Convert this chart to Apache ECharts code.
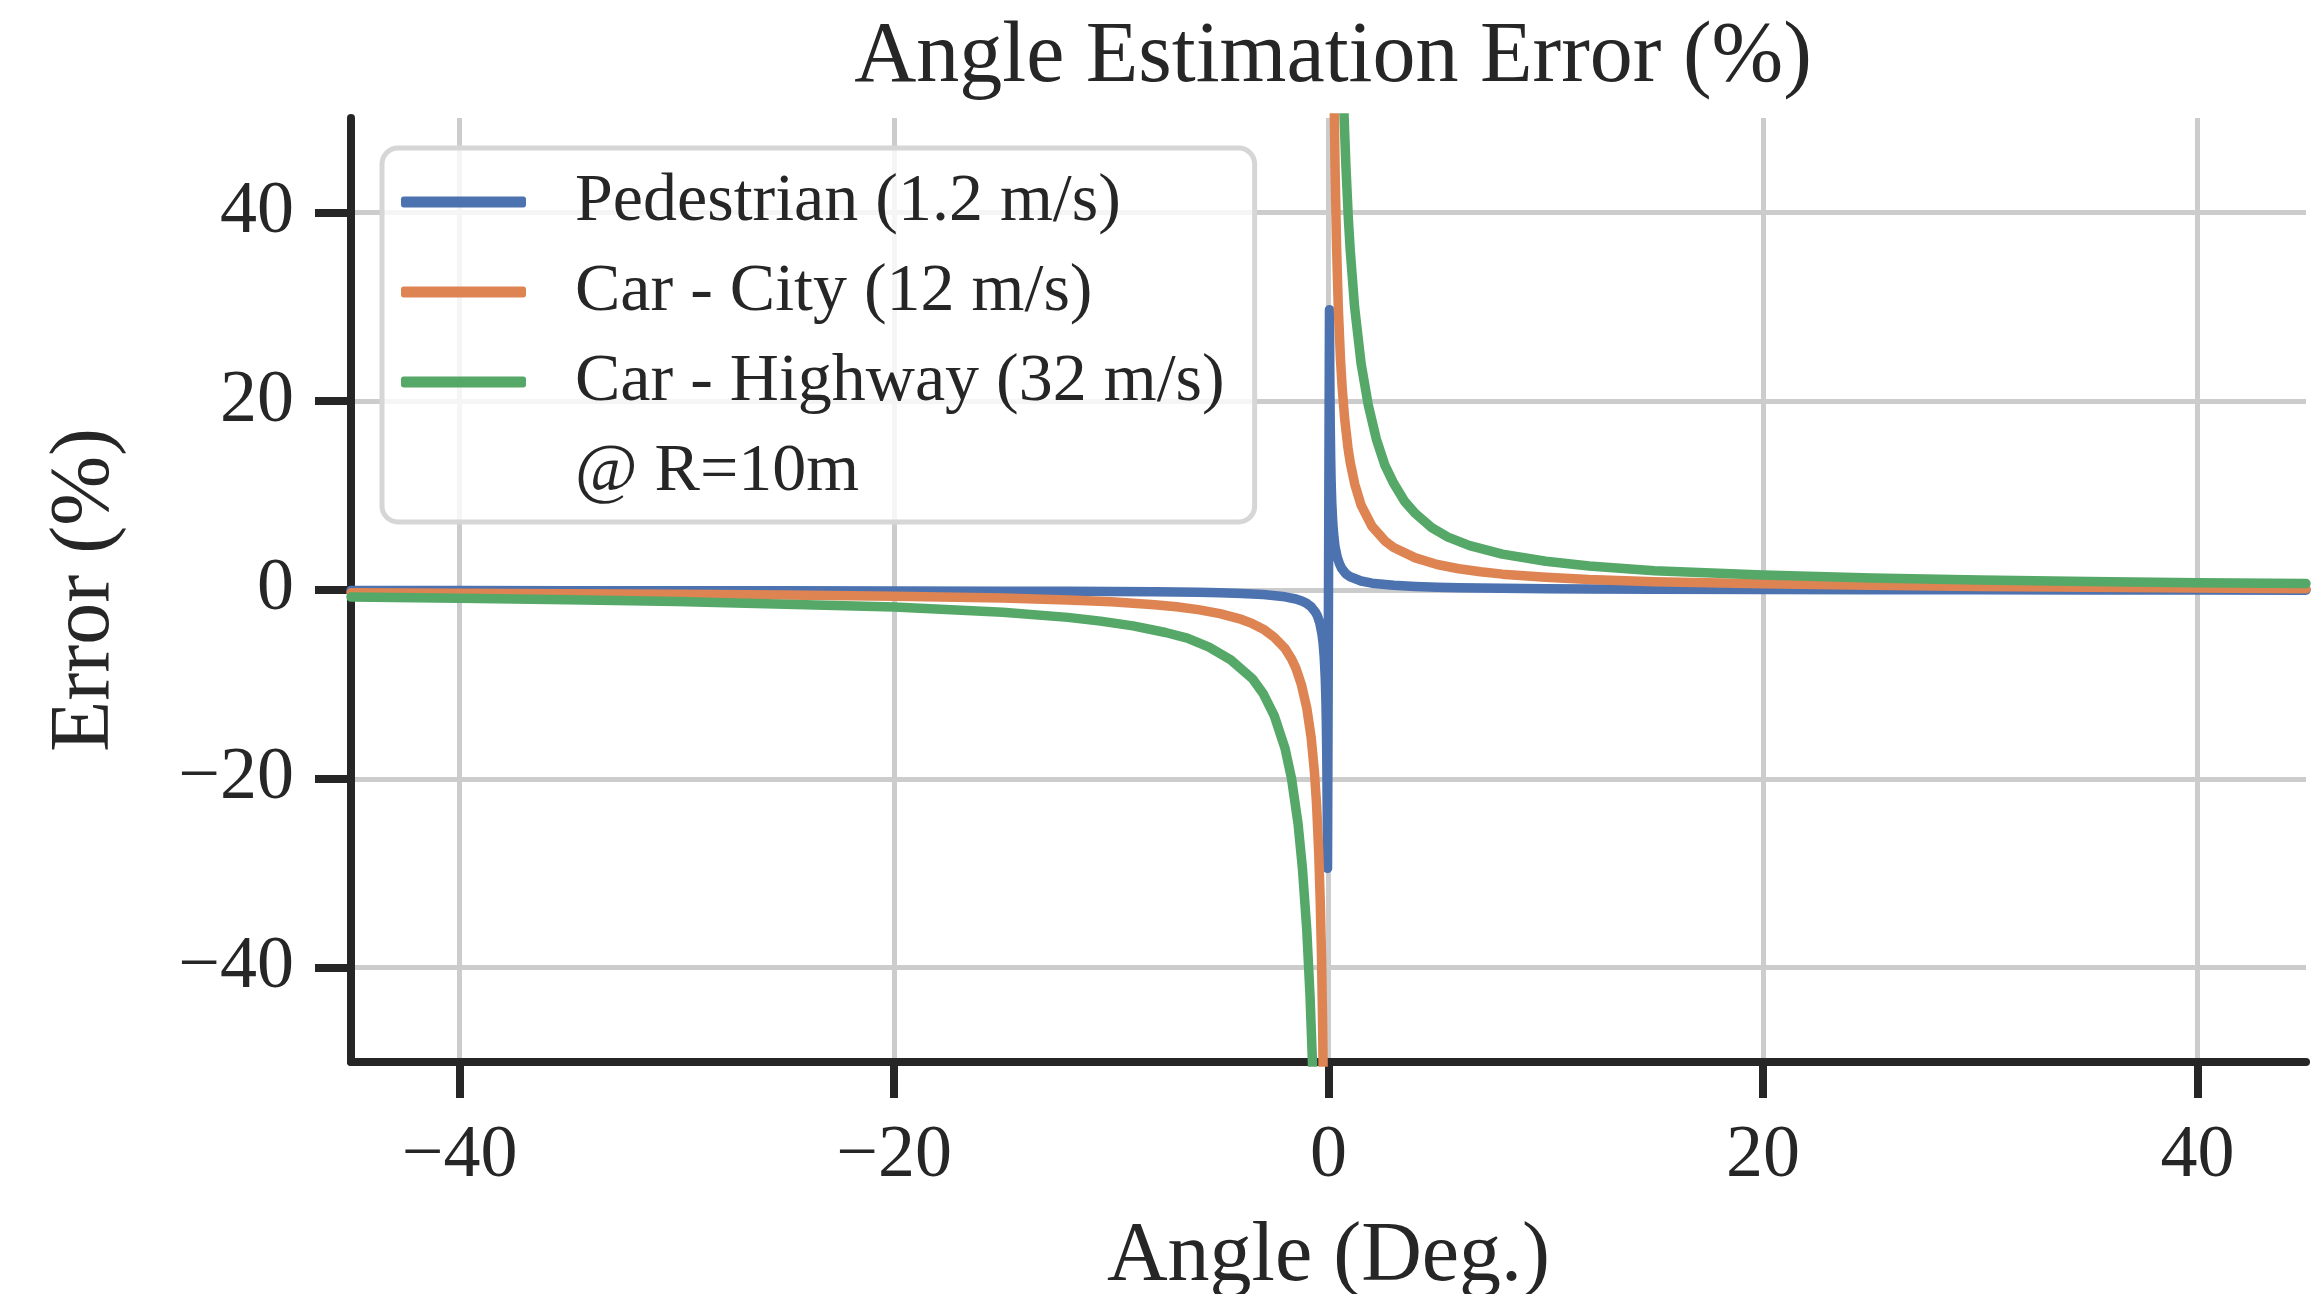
<!DOCTYPE html>
<html><head><meta charset="utf-8">
<script src="https://cdn.jsdelivr.net/npm/echarts@6/dist/echarts.min.js"></script>
<style>html,body{margin:0;padding:0;background:#fff}#c{width:2320px;height:1294px}</style>
</head><body><div id="c"></div>
<script>
const titleText = 'Angle Estimation Error (%)';
const xName = 'Angle (Deg.)';
const yName = 'Error (%)';
const xTicks = [-40, -20, 0, 20, 40];
const yTicks = [-40, -20, 0, 20, 40];
const seriesNames = ['Pedestrian (1.2 m/s)', 'Car - City (12 m/s)', 'Car - Highway (32 m/s)', '@ R=10m'];

const pedAngle = [-45,-40,-35,-30,-25,-20,-15,-12,-10,-8,-6,-5,-4,-3,-2,-1.5,-1.2,-1,-0.8,-0.6,-0.5,-0.4,-0.3,-0.25,-0.2,-0.15,-0.12,-0.1,-0.08,-0.06,-0.045,
  0.045,0.06,0.08,0.1,0.12,0.15,0.2,0.25,0.3,0.4,0.5,0.6,0.8,1,1.5,2,3,4,5,6,8,10,12,15,20,25,30,35,40,45];
const pedError = [-0.05,-0.06,-0.07,-0.08,-0.09,-0.1,-0.12,-0.14,-0.16,-0.19,-0.25,-0.3,-0.37,-0.48,-0.72,-0.95,-1.2,-1.42,-1.78,-2.35,-2.8,-3.5,-4.7,-5.6,-7.0,-9.3,-11.6,-14,-17.5,-23,-29.5,
  29.7,23,17.5,14,11.6,9.3,7,5.6,4.6,3.5,2.8,2.3,1.72,1.4,0.95,0.72,0.5,0.38,0.3,0.25,0.18,0.14,0.11,0.08,0.05,0.03,0.02,0.0,-0.01,-0.02];

const cityAngle = [-45,-40,-35,-30,-25,-20,-15,-12,-10,-8,-7,-6,-5,-4,-3.5,-3,-2.5,-2,-1.7,-1.5,-1.25,-1,-0.8,-0.65,-0.55,-0.45,-0.38,-0.32,-0.28,-0.245,-0.2,
  0,
  0.2,0.26,0.3,0.37,0.45,0.55,0.63,0.75,0.9,1,1.21,1.5,2,2.6,3,4,5,6,7,8,10,12,15,20,25,30,35,40,45];
const cityError = [-0.3,-0.34,-0.39,-0.45,-0.53,-0.65,-0.86,-1.05,-1.25,-1.56,-1.78,-2.08,-2.5,-3.12,-3.57,-4.15,-5.0,-6.2,-7.3,-8.3,-10,-12.5,-15.6,-19.2,-22.7,-27.8,-33,-39,-44.6,-51,-62.5,
  null,
  67.5,52,45,36.5,30,24.5,21.4,18,15,13.5,11.2,9,6.75,5.2,4.5,3.4,2.7,2.25,1.93,1.68,1.35,1.1,0.88,0.65,0.5,0.38,0.28,0.2,0.12];

const hwyAngle = [-45,-40,-35,-30,-25,-20,-15,-12,-10.5,-9,-7.5,-6.5,-5.5,-4.5,-3.5,-3,-2.5,-2,-1.7,-1.4,-1.2,-1,-0.85,-0.74,-0.6,
  0,
  0.6,0.72,0.8,0.91,1,1.2,1.5,1.83,2.2,2.6,3,3.5,4,4.75,5.5,6.5,8,10,12,15,20,25,30,35,40,45];
const hwyError = [-0.75,-0.88,-1.03,-1.22,-1.5,-1.8,-2.35,-2.9,-3.3,-3.8,-4.5,-5.1,-6.05,-7.4,-9.4,-11,-13.3,-16.8,-20,-24.8,-29.5,-36,-43,-50,-62,
  null,
  60,50,45,39.5,36,30,24,19.6,16,13.2,11.3,9.4,8.1,6.6,5.6,4.7,3.8,3.05,2.55,2.05,1.58,1.27,1.05,0.9,0.78,0.68];

const colors = ['#4C72B0', '#DD8452', '#55A868'];
const FONT = 'Liberation Serif';
const INK = '#262626';
const pair = (a, e) => a.map((v, i) => [v, e[i]]);
const fmt = v => String(v).replace('-', '\u2212');

const chart = echarts.init(document.getElementById('c'), null, {renderer: 'canvas', width: 2320, height: 1294});

function lineSeries(name, data, color) {
  return {
    name: name, type: 'line', data: data, showSymbol: false, symbol: 'none',
    connectNulls: false, clip: true, smooth: false,
    lineStyle: {color: color, width: 9.5, cap: 'round', join: 'round'},
    itemStyle: {color: color}
  };
}

const option = {
  animation: false,
  backgroundColor: '#ffffff',
  title: {
    text: titleText, left: 1328, top: 10, textAlign: 'center',
    textStyle: {fontFamily: FONT, fontSize: 86, fontWeight: 'normal', color: INK}
  },
  grid: {left: 351, right: 14, top: 118, bottom: 232, containLabel: false, outerBoundsMode: 'none'},
  legend: {
    orient: 'vertical', left: 382, top: 148,
    icon: 'roundRect',
    padding: [19, 30, 15, 19], itemGap: 20, itemWidth: 125, itemHeight: 11,
    backgroundColor: 'rgba(255,255,255,0.8)', borderColor: '#d6d6d6', borderWidth: 5, borderRadius: 16,
    textStyle: {fontFamily: FONT, fontSize: 68, color: INK, lineHeight: 70, padding: [0, 0, 0, 44]},
    data: seriesNames, z: 10
  },
  xAxis: {
    type: 'value', min: -45, max: 45,
    name: xName, nameLocation: 'middle', nameGap: 154,
    nameTextStyle: {fontFamily: FONT, fontSize: 84, color: INK},
    axisLine: {show: true, onZero: false, lineStyle: {color: INK, width: 8}},
    axisTick: {show: true, customValues: xTicks, length: 36, lineStyle: {color: INK, width: 8}},
    axisLabel: {customValues: xTicks, margin: 58, formatter: fmt, fontFamily: FONT, fontSize: 74, color: INK},
    splitLine: {show: true, customValues: xTicks, lineStyle: {color: '#cccccc', width: 5}}
  },
  yAxis: {
    type: 'value', min: -50, max: 50,
    name: yName, nameLocation: 'middle', nameGap: 223, nameRotate: 90,
    nameTextStyle: {fontFamily: FONT, fontSize: 84, color: INK},
    axisLine: {show: true, onZero: false, lineStyle: {color: INK, width: 8}},
    axisTick: {show: true, customValues: yTicks, length: 36, lineStyle: {color: INK, width: 8}},
    axisLabel: {customValues: yTicks, margin: 57, formatter: fmt, fontFamily: FONT, fontSize: 74, color: INK},
    splitLine: {show: true, customValues: yTicks, lineStyle: {color: '#cccccc', width: 5}}
  },
  series: [
    lineSeries(seriesNames[0], pair(pedAngle, pedError), colors[0]),
    lineSeries(seriesNames[1], pair(cityAngle, cityError), colors[1]),
    lineSeries(seriesNames[2], pair(hwyAngle, hwyError), colors[2]),
    lineSeries(seriesNames[3], [], 'rgba(0,0,0,0)')
  ]
};
chart.setOption(option);
</script>
</body></html>
